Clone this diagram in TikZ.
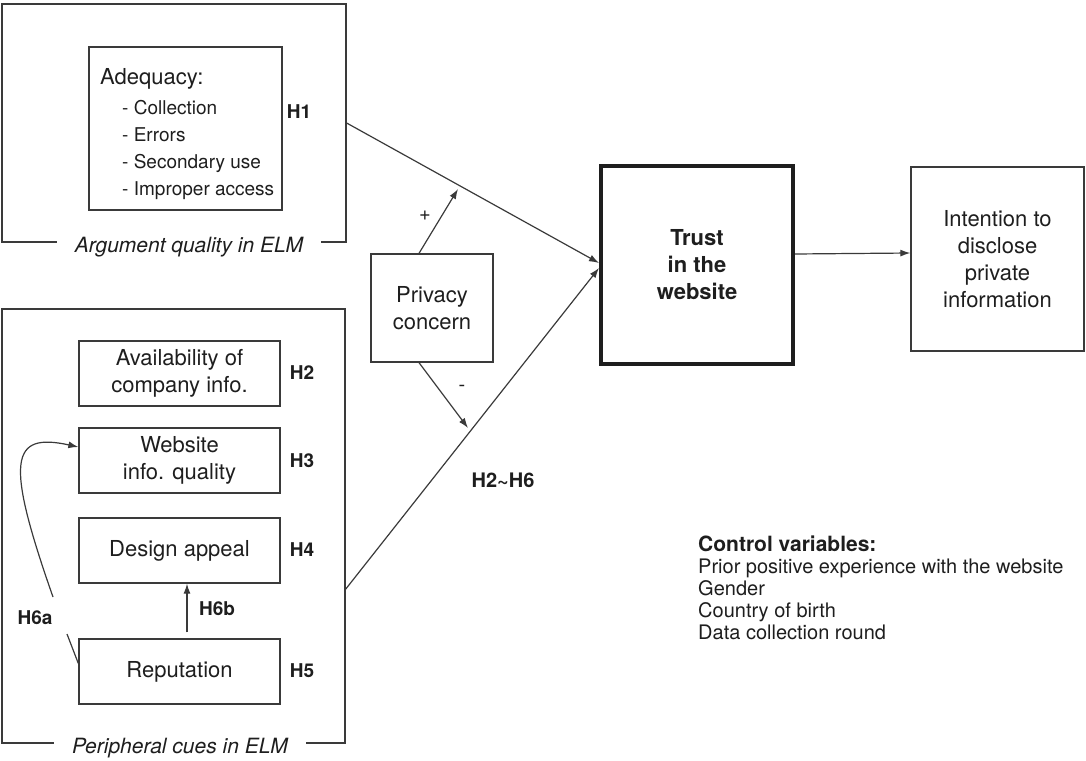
\documentclass[tikz,border=0pt]{standalone}
\usepackage{fontspec}
\setmainfont{TeX Gyre Heros}
\usetikzlibrary{arrows.meta,calc}

\definecolor{ink}{HTML}{1E1E1E}
\definecolor{edge}{HTML}{3A3A3A}
\newcommand\setfs[2]{\fontsize{#1}{#2}\selectfont}

\begin{document}
\begin{tikzpicture}[x=1pt,y=1pt,
  every node/.style={text=ink},
  frame/.style={draw=edge,line width=1.3pt,inner sep=0},
  framelabel/.style={fill=white,inner xsep=18pt,inner ysep=1pt,font=\setfs{21}{25}\itshape},
  box/.style={draw=edge,line width=1.3pt,align=center,inner sep=0,font=\setfs{22}{27}},
  hlabel/.style={font=\setfs{19}{22}\bfseries,inner sep=0},
  sign/.style={font=\setfs{20}{22},inner sep=0},
  link/.style={draw=edge,line width=1.2pt},
  arr/.style={link,-{Latex[length=10pt,width=7pt]}}
]
\path[use as bounding box] (0,0) rectangle (1086,-760);

% ---- grouping frames ----
\node[frame,minimum width=344,minimum height=238] (aq) at (174,-123) {};
\node[framelabel] (aqlabel) at (189,-247) {Argument quality in ELM};
\node[frame,minimum width=343,minimum height=434] (pc) at (173.5,-526) {};
\node[framelabel] (pclabel) at (180,-748) {Peripheral cues in ELM};

% ---- argument quality ----
\node[box,minimum width=193,minimum height=163] (adq) at (185.5,-128.5) {};
\node[anchor=north west,inner sep=0,align=left,font=\setfs{19}{27}] (adqtext) at (100,-68)
  {{\setfs{22}{27}Adequacy:}\\[3pt]
   \hspace*{22pt}- Collection\\
   \hspace*{22pt}- Errors\\
   \hspace*{22pt}- Secondary use\\
   \hspace*{22pt}- Improper access};
\node[hlabel] (h1) at (299,-112) {H1};

% ---- peripheral cues ----
\node[box,minimum width=201,minimum height=65] (avail) at (179.5,-373.5) {Availability of\\company info.};
\node[box,minimum width=201,minimum height=65] (web) at (179.5,-460.5) {Website\\info. quality};
\node[box,minimum width=201,minimum height=65] (design) at (179.5,-550.5) {Design appeal};
\node[box,minimum width=201,minimum height=65] (rep) at (179.5,-671.5) {Reputation};
\node[hlabel] (h2) at (302,-373) {H2};
\node[hlabel] (h3) at (302,-461) {H3};
\node[hlabel] (h4) at (302,-550) {H4};
\node[hlabel] (h5) at (302,-671) {H5};
\node[hlabel] (h6b) at (217,-609) {H6b};
\node[hlabel] (h6a) at (35,-618) {H6a};

% ---- moderator and outcomes ----
\node[box,minimum width=122,minimum height=108] (priv) at (432,-308) {Privacy\\concern};
\node[box,minimum width=192,minimum height=198,line width=4pt,draw=ink,font=\setfs{22}{27}\bfseries] (trust) at (697,-265) {Trust\\in the\\website};
\node[box,minimum width=173,minimum height=184] (intent) at (997.5,-259) {Intention to\\disclose\\private\\information};

\node[hlabel,font=\setfs{20}{22}\bfseries] (h26) at (503,-480) {H2\textasciitilde H6};
\node[sign] (plus) at (425,-216) {+};
\node[sign] (minus) at (462,-388) {-};

\node[anchor=north west,inner sep=0,align=left,font=\setfs{20}{21.8}] (ctrl) at (698,-536)
  {{\setfs{21}{21.8}\bfseries Control variables:}\\
   Prior positive experience with the website\\
   Gender\\
   Country of birth\\
   Data collection round};

% ---- connectors ----
\coordinate (pcsrc) at (345,-590);
\coordinate (plustip) at (458,-189);
\coordinate (minustip) at (468,-428);
\coordinate (h6alow) at (67,-634);
\coordinate (h6ahigh) at (53,-597);

\draw[arr] (aq.east) -- ([yshift=2]trust.west);
\draw[arr] (pcsrc) -- ([yshift=-3]trust.west);
\draw[arr] ([xshift=-13]priv.north) -- (plustip);
\draw[arr] ([xshift=-13]priv.south) -- (minustip);
\draw[arr] ([yshift=11]trust.east) -- ([yshift=6]intent.west);
\draw[arr] ([xshift=7.5,yshift=6]rep.north) -- ([xshift=7.5]design.south);
\draw[link] ([yshift=8]rep.west) -- (h6alow);
\draw[arr] (h6ahigh) .. controls (5,-460) and (10,-432) .. ([yshift=13.5]web.west);
\end{tikzpicture}
\end{document}
